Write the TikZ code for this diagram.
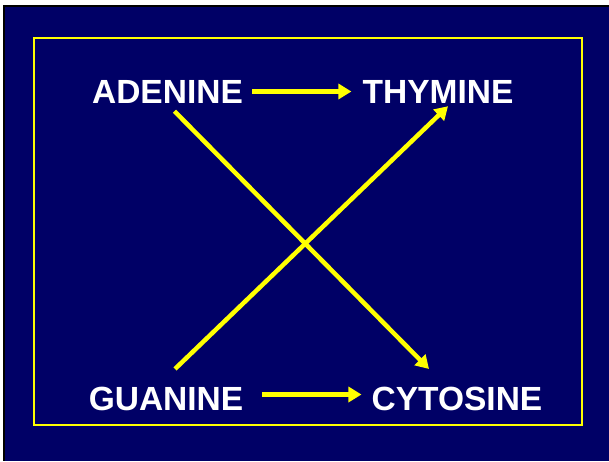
\documentclass[tikz,border=0pt]{standalone}
\usepackage{fontspec}
\setmainfont{Liberation Sans}
\usetikzlibrary{arrows.meta,calc}
\definecolor{navy}{RGB}{0,0,102}
\definecolor{brightyellow}{RGB}{255,255,0}
\begin{document}
\begin{tikzpicture}[x=1pt, y=-1pt,
  base/.style={font=\fontsize{33.5}{33.5}\selectfont\bfseries, text=white, inner sep=0pt},
  arr/.style={draw=brightyellow, line width=4.5pt, -{Triangle[length=13pt,width=15pt]}}]
\useasboundingbox (0,0) rectangle (609,461);
\fill[white] (0,0) rectangle (609,461);
\fill[black] (3,5) rectangle (609,461);
\fill[navy] (5,7) rectangle (609,461);
\draw[brightyellow, line width=2.2pt] (34,38) rectangle (582,425);
\node[base] (adenine) at (167.5,91.5) {ADENINE};
\node[base] (thymine) at (438,91.5) {THYMINE};
\node[base] (guanine) at (166,398.5) {GUANINE};
\node[base] (cytosine) at (457,398.5) {CYTOSINE};
\draw[arr] ($(adenine.east)+(9,0)$) -- ($(thymine.west)+(-11,0)$);
\draw[arr] ($(guanine.east)+(19,-4)$) -- ($(cytosine.west)+(-10,-4)$);
\draw[arr] ($(adenine.south)+(7,8)$) -- ($(cytosine.north)+(-28,-17.5)$);
\draw[arr] ($(guanine.north)+(9,-17.5)$) -- ($(thymine.south)+(10,3)$);
\end{tikzpicture}
\end{document}
